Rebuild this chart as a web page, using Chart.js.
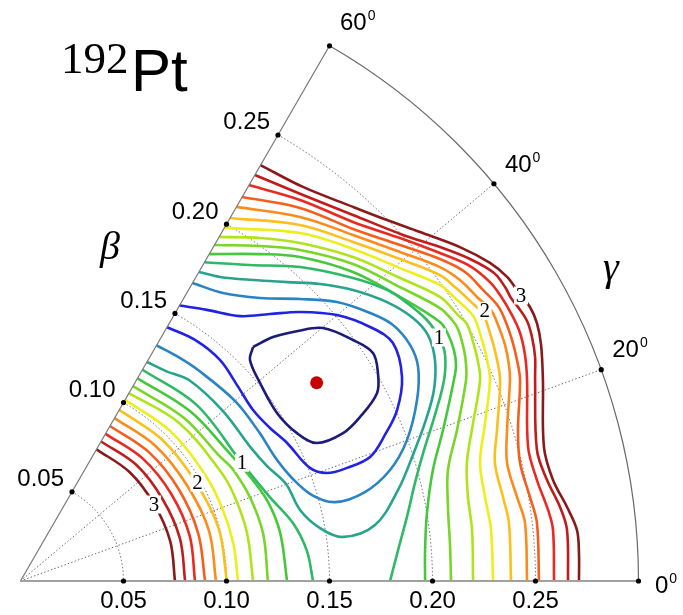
<!DOCTYPE html>
<html>
<head>
<meta charset="utf-8">
<script src="https://cdn.jsdelivr.net/npm/chart.js@4.4.1/dist/chart.umd.min.js"></script>
<style>
html,body{margin:0;padding:0;background:#ffffff;}
#wrap{width:683px;height:615px;position:relative;}
</style>
</head>
<body>
<div id="wrap"><canvas id="c" width="683" height="615"></canvas></div>
<script>
// ---------------- data ----------------
const betaTicks = [0.05, 0.10, 0.15, 0.20, 0.25];
const betaTickLabels = ['0.05', '0.10', '0.15', '0.20', '0.25'];
const gammaTicks = [0, 20, 40, 60];
const betaMax = 0.30;

// contour levels (MeV) and colours
const levelValues = [0.2, 0.4, 0.6, 0.8, 1.0, 1.2, 1.4, 1.6, 1.8, 2.0, 2.2, 2.4, 2.6, 2.8, 3.0];
const levelColors = ['#1c1c78', '#2222e2', '#2a84c4', '#26a48c', '#2fb866', '#45c83a', '#78d626', '#b0e41a',
                     '#eeee1c', '#fcc01c', '#fb8c1c', '#f65e1c', '#ea2a20', '#c01c1c', '#8a1a1a'];

// minimum of the surface (beta, gamma in degrees)
const minBeta = 0.173;
const minGamma = 33.8;

// contour branches in Cartesian form [beta*cos(gamma), beta*sin(gamma)]
const c02 = [[.1129,.1136],[.1226,.1184],[.1347,.1214],[.1468,.1228],[.1614,.1170],[.1711,.1107],[.1735,.1010],[.1731,.0913],[.1648,.0796],[.1566,.0718],[.1439,.0670],[.1342,.0718],[.1245,.0816],[.1163,.0961],[.1114,.1073],[.1129,.1136]];
const c04 = [[.0772,.1337],[.0905,.1316],[.1066,.1286],[.1211,.1296],[.1357,.1306],[.1536,.1291],[.1697,.1233],[.1808,.1155],[.1852,.0990],[.1828,.0830],[.1769,.0709],[.1697,.0602],[.1585,.0549],[.1488,.0524],[.1405,.0549],[.1294,.0670],[.1211,.0743],[.1129,.0830],[.1051,.0951],[.0968,.1073],[.0847,.1170],[.0711,.1232]];
const c06 = [[.0835,.1447],[.0983,.1398],[.1163,.1374],[.1357,.1369],[.1536,.1354],[.1697,.1301],[.1808,.1243],[.1891,.1146],[.1930,.1039],[.1925,.0879],[.1876,.0684],[.1794,.0539],[.1672,.0432],[.1527,.0383],[.1415,.0417],[.1318,.0500],[.1235,.0602],[.1158,.0723],[.1041,.0874],[.0862,.1024],[.0763,.1089],[.0660,.1144]];
const c08 = [[.0867,.1500],[.0968,.1476],[.1129,.1461],[.1294,.1451],[.1454,.1442],[.1614,.1413],[.1779,.1354],[.1905,.1277],[.1978,.1194],[.2012,.1073],[.2007,.0927],[.1968,.0782],[.1905,.0612],[.1833,.0442],[.1721,.0272],[.1566,.0214],[.1454,.0257],[.1357,.0345],[.1289,.0471],[.1197,.0558],[.1119,.0646],[.0983,.0825],[.0818,.0976],[.0706,.1019],[.0614,.1063]];
const c10R = [[.0893,.1547],[.1114,.1534],[.1357,.1524],[.1614,.1471],[.1779,.1413],[.1876,.1350],[.1973,.1267],[.2036,.1175],[.2061,.1097],[.2056,.0976],[.2012,.0806],[.1959,.0636],[.1915,.0476],[.1876,.0311],[.1833,.0150],[.1794,0]];
const c12R = [[.0917,.1587],[.1163,.1587],[.1357,.1573],[.1614,.1500],[.1842,.1379],[.2036,.1257],[.2075,.1199],[.2104,.1121],[.2114,.1049],[.2104,.0976],[.2051,.0733],[.2002,.0539],[.1973,.0330],[.1964,.0150],[.1964,0]];
const c14R = [[.0942,.1631],[.1163,.1626],[.1357,.1607],[.1614,.1539],[.1842,.1427],[.2036,.1325],[.2095,.1267],[.2124,.1223],[.2153,.1121],[.2163,.1049],[.2163,.0976],[.2119,.0733],[.2075,.0539],[.2075,.0359],[.2085,.0175],[.2090,0]];
const c16R = [[.0964,.1670],[.1163,.1665],[.1357,.1641],[.1614,.1573],[.1842,.1471],[.2036,.1379],[.2124,.1291],[.2167,.1248],[.2201,.1146],[.2221,.1063],[.2231,.0976],[.2197,.0767],[.2167,.0573],[.2172,.0408],[.2192,.0248],[.2197,0]];
const c18R = [[.0990,.1714],[.1357,.1689],[.1614,.1612],[.1842,.1519],[.2036,.1437],[.2109,.1374],[.2172,.1316],[.2206,.1272],[.2240,.1170],[.2265,.1073],[.2279,.0976],[.2255,.0767],[.2231,.0573],[.2255,.0408],[.2284,.0248],[.2294,0]];
const c20R = [[.1017,.1762],[.1357,.1728],[.1614,.1646],[.1842,.1563],[.2036,.1485],[.2109,.1427],[.2192,.1350],[.2245,.1296],[.2279,.1204],[.2308,.1097],[.2328,.0976],[.2313,.0733],[.2303,.0573],[.2342,.0408],[.2371,.0282],[.2381,0]];
const c22R = [[.1049,.1816],[.1357,.1767],[.1614,.1680],[.1842,.1597],[.2036,.1524],[.2133,.1461],[.2221,.1374],[.2284,.1316],[.2318,.1243],[.2352,.1146],[.2371,.1049],[.2376,.0976],[.2362,.0733],[.2362,.0573],[.2410,.0408],[.2449,.0282],[.2459,0]];
const c24R = [[.1075,.1864],[.1357,.1811],[.1614,.1709],[.1842,.1631],[.2036,.1563],[.2158,.1500],[.2245,.1413],[.2318,.1335],[.2352,.1267],[.2386,.1170],[.2410,.1073],[.2425,.0976],[.2415,.0733],[.2425,.0573],[.2473,.0408],[.2507,.0282],[.2517,0]];
const c26R = [[.1109,.1922],[.1357,.1850],[.1614,.1743],[.1842,.1665],[.2036,.1592],[.2182,.1529],[.2279,.1451],[.2328,.1388],[.2386,.1291],[.2425,.1204],[.2449,.1097],[.2459,.0976],[.2464,.0650],[.2507,.0490],[.2561,.0345],[.2585,.0248],[.2590,0]];
const c28R = [[.1138,.1971],[.1371,.1874],[.1614,.1777],[.1857,.1680],[.2036,.1621],[.2182,.1563],[.2299,.1495],[.2352,.1427],[.2381,.1374],[.2415,.1330],[.2459,.1262],[.2483,.1184],[.2498,.1087],[.2498,.0976],[.2507,.0636],[.2556,.0490],[.2619,.0359],[.2653,.0248],[.2658,0]];
const c30R = [[.1165,.2019],[.1371,.1913],[.1614,.1816],[.1779,.1752],[.1939,.1694],[.2133,.1621],[.2279,.1544],[.2362,.1476],[.2420,.1398],[.2473,.1330],[.2507,.1252],[.2527,.1146],[.2536,.0976],[.2541,.0650],[.2585,.0490],[.2653,.0359],[.2701,.0248],[.2711,.0136],[.2711,0]];

// inner (small-beta) branches in polar form [gamma (deg), beta]
const c10L = [[60,.1184],[45,.1209],[28,.1218],[18.6,.1277],[12,.1352],[6,.1398],[0,.1420]];
const c12L = [[60,.1136],[45,.1165],[32,.1187],[25.5,.1218],[18,.1260],[10.5,.1282],[0,.1294]];
const c14L = [[60,.1092],[45,.1121],[32,.1141],[28,.1164],[20,.1186],[11,.1200],[0,.1201]];
const c16L = [[60,.1053],[45,.1087],[29,.1107],[22,.1117],[12,.1124],[0,.1129]];
const c18L = [[60,.1015],[45,.1029],[30,.1034],[20,.1041],[10,.1049],[0,.1056]];
const c20L = [[60,.0959],[45,.0971],[30,.0976],[15,.0995],[0,.1002]];
const c22L = [[60,.0913],[45,.0927],[30,.0932],[15,.0947],[0,.0949]];
const c24L = [[60,.0869],[45,.0883],[30,.0888],[15,.0893],[0,.0896]];
const c26L = [[60,.0825],[45,.0840],[30,.0845],[15,.0850],[0,.0847]];
const c28L = [[60,.0782],[45,.0796],[30,.0796],[15,.0801],[0,.0799]];
const c30L = [[60,.0738],[45,.0748],[30,.0748],[15,.0752],[0,.0750]];

// contour labels: level, beta, gamma (deg)
const labelLevels = [3, 2, 1, 1, 2, 3];
const labelBeta = [.2797, .2607, .2350, .1219, .0983, .0747];
const labelGamma = [29.7, 30.2, 30.2, 28.1, 29.1, 29.8];

// ---------------- building ----------------
const DEG = Math.PI / 180;
const cart = p => ({x: p[0], y: p[1]});
const polar = p => ({x: p[1] * Math.cos(p[0] * DEG), y: p[1] * Math.sin(p[0] * DEG)});

const branches = [
  [0, c02, cart], [1, c04, cart], [2, c06, cart], [3, c08, cart],
  [4, c10R, cart], [4, c10L, polar], [5, c12R, cart], [5, c12L, polar],
  [6, c14R, cart], [6, c14L, polar], [7, c16R, cart], [7, c16L, polar],
  [8, c18R, cart], [8, c18L, polar], [9, c20R, cart], [9, c20L, polar],
  [10, c22R, cart], [10, c22L, polar], [11, c24R, cart], [11, c24L, polar],
  [12, c26R, cart], [12, c26L, polar], [13, c28R, cart], [13, c28L, polar],
  [14, c30R, cart], [14, c30L, polar]
];

const datasets = branches.map(([lvl, pts, conv]) => ({
  label: levelValues[lvl].toFixed(1) + ' MeV',
  data: pts.map(conv),
  showLine: true,
  borderColor: levelColors[lvl],
  backgroundColor: levelColors[lvl],
  borderWidth: 2.6,
  pointRadius: 0,
  tension: 0.35,
  fill: false
}));
datasets.push({
  label: 'minimum',
  data: [polar([minGamma, minBeta])],
  showLine: false,
  pointRadius: 6.5,
  pointBackgroundColor: '#c40000',
  pointBorderColor: '#c40000',
  borderWidth: 0
});

// pixel scale: 2060 px per unit of beta, origin at (20.5, 581)
const PX = 2060;
const W = 683, H = 615, OX = 20.5, OY = 581;

const SANS = '"Liberation Sans", Arial, Helvetica, sans-serif';
const SERIF = '"Liberation Serif", "Times New Roman", "DejaVu Serif", serif';

function pt(chart, b, gDeg) {
  const {x, y} = chart.scales;
  return [x.getPixelForValue(b * Math.cos(gDeg * DEG)), y.getPixelForValue(b * Math.sin(gDeg * DEG))];
}

const gridPlugin = {
  id: 'polarGrid',
  beforeDatasetsDraw(chart) {
    const ctx = chart.ctx;
    const [ox, oy] = pt(chart, 0, 0);
    const rad = b => pt(chart, b, 0)[0] - ox;
    ctx.save();
    ctx.strokeStyle = '#555';
    ctx.lineWidth = 0.9;
    ctx.setLineDash([1.4, 2.2]);
    betaTicks.forEach(b => {
      ctx.beginPath();
      ctx.arc(ox, oy, rad(b), -60 * DEG, 0);
      ctx.stroke();
    });
    [20, 40].forEach(g => {
      const [ex, ey] = pt(chart, betaMax, g);
      ctx.beginPath(); ctx.moveTo(ox, oy); ctx.lineTo(ex, ey); ctx.stroke();
    });
    ctx.restore();
  },
  afterDatasetsDraw(chart) {
    const ctx = chart.ctx;
    const [ox, oy] = pt(chart, 0, 0);
    const rad = b => pt(chart, b, 0)[0] - ox;
    ctx.save();
    ctx.setLineDash([]);
    // outer arc
    ctx.strokeStyle = '#6a6a6a'; ctx.lineWidth = 1.2;
    ctx.beginPath(); ctx.arc(ox, oy, rad(betaMax), -60 * DEG, 0); ctx.stroke();
    // 60 degree edge
    const [tx, ty] = pt(chart, betaMax, 60);
    ctx.strokeStyle = '#777'; ctx.lineWidth = 1.2;
    ctx.beginPath(); ctx.moveTo(ox, oy); ctx.lineTo(tx, ty); ctx.stroke();
    // gamma = 0 axis
    const [ax, ay] = pt(chart, betaMax, 0);
    ctx.strokeStyle = '#a0a0a0'; ctx.lineWidth = 2.2;
    ctx.beginPath(); ctx.moveTo(ox, oy); ctx.lineTo(ax, ay); ctx.stroke();
    // tick dots
    ctx.fillStyle = '#000';
    const dot = (p) => { ctx.beginPath(); ctx.arc(p[0], p[1], 2.6, 0, 2 * Math.PI); ctx.fill(); };
    betaTicks.forEach(b => { dot(pt(chart, b, 0)); dot(pt(chart, b, 60)); });
    gammaTicks.forEach(g => dot(pt(chart, betaMax, g)));

    // beta tick labels
    ctx.font = '24px ' + SANS;
    ctx.fillStyle = '#000';
    ctx.textBaseline = 'alphabetic';
    betaTicks.forEach((b, i) => {
      const p0 = pt(chart, b, 0);
      ctx.textAlign = 'center';
      ctx.fillText(betaTickLabels[i], p0[0], p0[1] + 27);
      const p6 = pt(chart, b, 60);
      ctx.textAlign = 'right';
      ctx.fillText(betaTickLabels[i], p6[0] - 8, p6[1] - 5.5);
    });
    // gamma tick labels with superscript 0
    const gOff = {0: [16.5, 12], 20: [11, -12.5], 40: [11, -11.5], 60: [10.5, -16]};
    gammaTicks.forEach(g => {
      const p = pt(chart, betaMax, g);
      const lx = p[0] + gOff[g][0], ly = p[1] + gOff[g][1];
      ctx.textAlign = 'left';
      ctx.font = '24px ' + SANS;
      const txt = String(g);
      ctx.fillText(txt, lx, ly);
      const w = ctx.measureText(txt).width;
      ctx.font = '14px ' + SANS;
      ctx.fillText('0', lx + w + 1, ly - 10);
    });

    // contour labels with a white gap
    ctx.font = '21px ' + SERIF;
    ctx.textAlign = 'center';
    ctx.textBaseline = 'middle';
    labelLevels.forEach((lv, i) => {
      const p = pt(chart, labelBeta[i], labelGamma[i]);
      ctx.fillStyle = '#fff';
      ctx.fillRect(p[0] - 7, p[1] - 9, 14, 18);
      ctx.fillStyle = '#000';
      ctx.fillText(String(lv), p[0], p[1] + 1);
    });
    ctx.restore();
  },
  afterDraw(chart) {
    const ctx = chart.ctx;
    ctx.save();
    ctx.fillStyle = '#000';
    ctx.textAlign = 'left';
    ctx.textBaseline = 'alphabetic';
    // nucleus title
    ctx.font = '45px ' + SERIF;
    ctx.fillText('192', 61, 73);
    ctx.font = '60px ' + SANS;
    ctx.fillText('Pt', 131, 91);
    // axis names
    ctx.font = 'italic 40px ' + SERIF;
    ctx.fillText('\u03B2', 100, 259);
    ctx.fillText('\u03B3', 603, 280);
    ctx.restore();
  }
};

new Chart(document.getElementById('c'), {
  type: 'scatter',
  data: {datasets},
  options: {
    responsive: false,
    maintainAspectRatio: false,
    devicePixelRatio: 1,
    animation: false,
    layout: {padding: 0, autoPadding: false},
    plugins: {legend: {display: false}, tooltip: {enabled: false}, title: {display: false}},
    scales: {
      x: {type: 'linear', display: false, min: -OX / PX, max: (W - OX) / PX},
      y: {type: 'linear', display: false, min: -(H - OY) / PX, max: OY / PX}
    }
  },
  plugins: [gridPlugin]
});
</script>
</body>
</html>
